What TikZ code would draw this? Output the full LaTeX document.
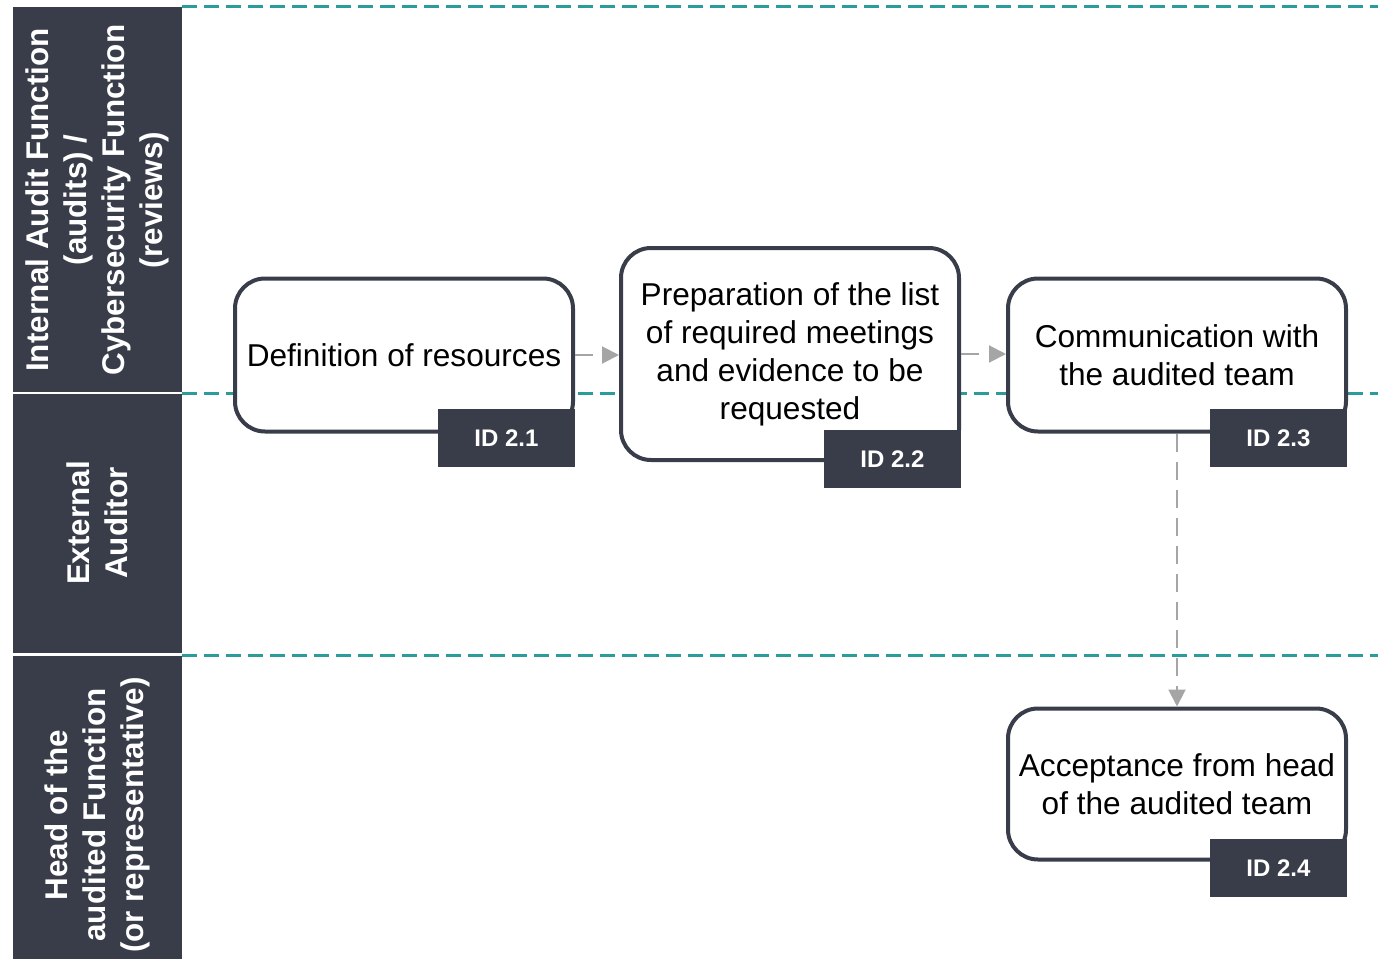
\documentclass[tikz,border=0pt]{standalone}
\usepackage{fontspec}
\setmainfont{Liberation Sans}
\usepackage{tikz}
\usetikzlibrary{arrows.meta}
\definecolor{laneDark}{HTML}{383D49}
\definecolor{laneTeal}{HTML}{2A9D9B}
\definecolor{flowGray}{HTML}{A5A5A5}
\begin{document}
\begin{tikzpicture}[x=0.5pt, y=-0.5pt,
	lane/.style={fill=laneDark, draw=none},
	lanetext/.style={rotate=90, text=white, align=center, font=\bfseries\fontsize{15.7}{19}\selectfont},
	sep/.style={draw=laneTeal, line width=1.5pt, dash pattern=on 7.5pt off 3.5pt},
	task/.style={draw=laneDark, fill=white, line width=2pt, rounded corners=15pt, minimum width=169pt, minimum height=76.5pt, inner sep=0pt, align=center, font=\fontsize{15.8}{19}\selectfont},
	tag/.style={fill=laneDark, text=white, minimum width=68.5pt, minimum height=29pt, inner sep=0pt, font=\bfseries\fontsize{12}{14}\selectfont},
	flow/.style={draw=flowGray, line width=1pt, dash pattern=on 9pt off 5pt, -{Triangle[length=8.5pt, width=8.5pt]}}]
			\useasboundingbox (0,0) rectangle (1378,959);
			% Lanes
			\fill[lane] (13,7) rectangle (182,392);
			\fill[lane] (13,394) rectangle (182,653);
			\fill[lane] (13,656) rectangle (182,959);
			\node[lanetext] (lane1) at (97,200) {Internal Audit Function\\(audits) /\\Cybersecurity Function\\(reviews)};
			\node[lanetext] (lane2) at (97,523) {External\\Auditor};
			\node[lanetext] (lane3) at (97,815) {Head of the\\audited Function\\(or representative)};
			\foreach \y in {6,393,655} {
				\draw[sep] (182,\y) -- (1378,\y);
			}
			% Tasks
			\node[task] (t1) at (404,355) {Definition of resources};
			\node[task, minimum height=106pt] (t2) at (790,354) {Preparation of the list\\of required meetings\\and evidence to be\\requested};
			\node[task] (t3) at (1177,355) {Communication with\\the audited team};
			\node[task, minimum height=75.5pt] (t4) at (1177,784) {Acceptance from head\\of the audited team};
			\node[tag] (id1) at (506.5,438) {ID 2.1};
			\node[tag] (id2) at (892.5,459) {ID 2.2};
			\node[tag] (id3) at (1278.5,438) {ID 2.3};
			\node[tag] (id4) at (1278.5,868) {ID 2.4};
			% Flow
			\draw[flow] (t1.east) -- (t1.east -| t2.west);
			\draw[flow] (t2.east) -- (t2.east -| t3.west);
			\draw[flow] (t3.south) -- (t4.north);
		\end{tikzpicture}
\end{document}
